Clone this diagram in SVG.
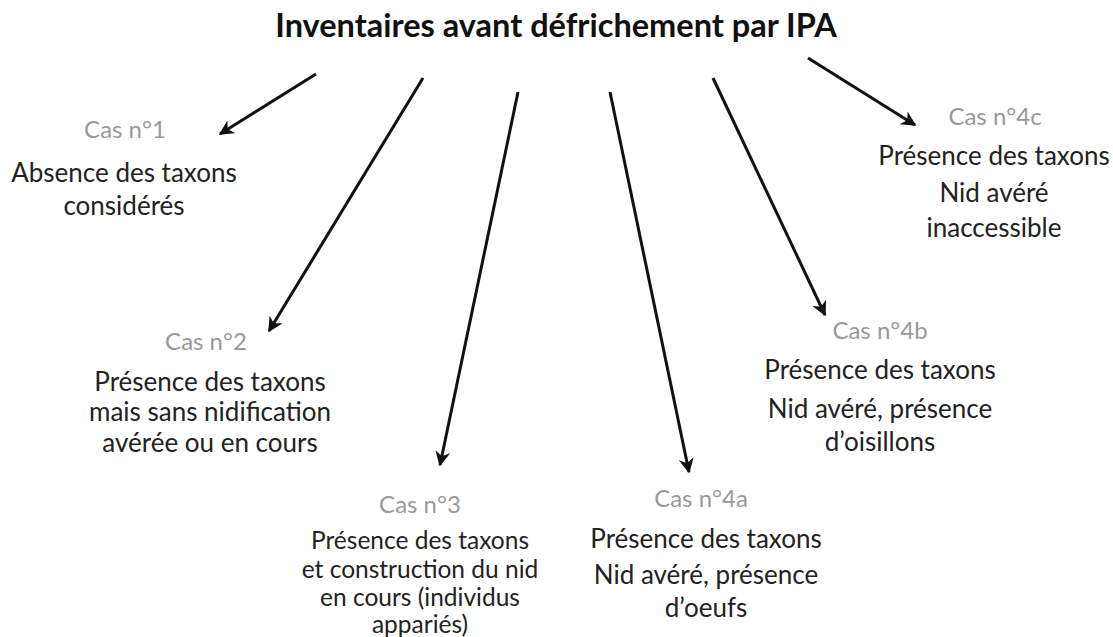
<svg xmlns="http://www.w3.org/2000/svg" width="1113" height="637" viewBox="0 0 1113 637">
<style>
.t{font-family:Lato,"Open Sans","Liberation Sans",sans-serif;text-anchor:middle;fill:#222;font-size:26px}
.s{font-size:24.5px}
.c{font-family:Lato,"Open Sans","Liberation Sans",sans-serif;text-anchor:middle;fill:#999;font-size:24px}
.h{font-family:Lato,"Open Sans","Liberation Sans",sans-serif;text-anchor:middle;fill:#111;font-size:32.5px;font-weight:bold}
.a{stroke:#111;stroke-width:3;fill:none;marker-end:url(#ah)}
</style>
<defs>
<marker id="ah" viewBox="0 0 10 10" refX="9" refY="5" markerWidth="5" markerHeight="5" orient="auto" markerUnits="strokeWidth">
<path d="M0,0 L10,5 L0,10 L3,5 Z" fill="#111"/>
</marker>
</defs>
<rect width="1113" height="637" fill="#fff"/>
<g id="title"><text class="h" x="556" y="37">Inventaires avant défrichement par IPA</text></g>
<g id="connectors">
<line class="a" x1="316" y1="74" x2="220" y2="134"/>
<line class="a" x1="423" y1="78" x2="269" y2="331"/>
<line class="a" x1="518" y1="92" x2="440" y2="465"/>
<line class="a" x1="610" y1="92" x2="689" y2="472"/>
<line class="a" x1="713" y1="78" x2="825" y2="315"/>
<line class="a" x1="808" y1="58" x2="915" y2="125"/>
</g>
<g id="cas1">
<text class="c" x="125" y="138">Cas n°1</text>
<text class="t" x="124" y="182">Absence des taxons</text>
<text class="t" x="124" y="215">considérés</text>
</g>
<g id="cas2">
<text class="c" x="206" y="350">Cas n°2</text>
<text class="t" x="210" y="391">Présence des taxons</text>
<text class="t" x="210" y="421">mais sans nidification</text>
<text class="t" x="210" y="452">avérée ou en cours</text>
</g>
<g id="cas3">
<text class="c" x="420" y="513">Cas n°3</text>
<text class="t s" x="420" y="549">Présence des taxons</text>
<text class="t s" x="420" y="578">et construction du nid</text>
<text class="t s" x="420" y="606">en cours (individus</text>
<text class="t s" x="420" y="633">appariés)</text>
</g>
<g id="cas4a">
<text class="c" x="701" y="507">Cas n°4a</text>
<text class="t" x="706" y="548">Présence des taxons</text>
<text class="t" x="706" y="584">Nid avéré, présence</text>
<text class="t" x="706" y="617">d’oeufs</text>
</g>
<g id="cas4b">
<text class="c" x="880" y="339">Cas n°4b</text>
<text class="t" x="880" y="379">Présence des taxons</text>
<text class="t" x="880" y="418">Nid avéré, présence</text>
<text class="t" x="880" y="451">d’oisillons</text>
</g>
<g id="cas4c">
<text class="c" x="995" y="125">Cas n°4c</text>
<text class="t" x="994" y="165">Présence des taxons</text>
<text class="t" x="994" y="202">Nid avéré</text>
<text class="t" x="994" y="237">inaccessible</text>
</g>
</svg>
